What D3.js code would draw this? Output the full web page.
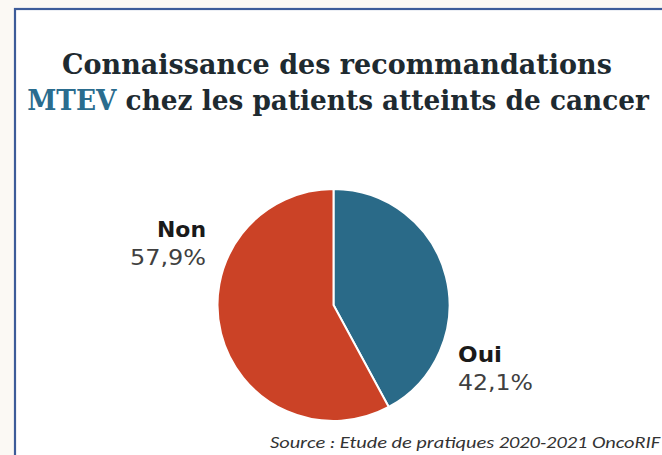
<!DOCTYPE html>
<html><head><meta charset="utf-8">
<script src="https://cdn.jsdelivr.net/npm/d3@7"></script>
<style>html,body{margin:0;padding:0;background:#fbf9f4;}svg{display:block;}</style>
</head><body>
<script>
const categories = ["Oui", "Non"];
const values = [42.1, 57.9];
const valueLabels = ["42,1%", "57,9%"];
const colors = ["#2a6a88", "#cb4226"];
const titleLine1 = "Connaissance des recommandations";
const titleLine2a = "MTEV";
const titleLine2b = " chez les patients atteints de cancer";
const sourceText = "Source : Etude de pratiques 2020-2021 OncoRIF";

const W = 662, H = 455;
const svg = d3.select("body").append("svg").attr("width", W).attr("height", H);

// frame
svg.append("rect").attr("x", 15).attr("y", 9).attr("width", W + 10).attr("height", H + 10)
  .attr("fill", "#ffffff").attr("stroke", "#3d5c99").attr("stroke-width", 2.2);

// title (scaled horizontally to the reference widths)
function fitLine(cxPos, y, width, build) {
  const gg = svg.append("g");
  const t = gg.append("text").attr("x", 0).attr("y", 0).attr("text-anchor", "middle")
    .attr("font-family", "DejaVu Serif, serif").attr("font-weight", "bold")
    .attr("font-size", 28).attr("fill", "#1e2a30");
  build(t);
  const natural = t.node().getComputedTextLength();
  gg.attr("transform", `translate(${cxPos},${y}) scale(${width / natural},1)`);
}
fitLine(337, 73.5, 550, t => t.text(titleLine1));
fitLine(338, 110, 622, t => {
  t.append("tspan").attr("fill", "#2a6c8e").text(titleLine2a);
  t.append("tspan").text(titleLine2b);
});

// pie
const cx = 333.5, cy = 305, r = 116;
const pie = d3.pie().sort(null).value(d => d);
const arc = d3.arc().innerRadius(0).outerRadius(r);
const arcs = pie(values);
const g = svg.append("g").attr("transform", `translate(${cx},${cy})`);
g.selectAll("path").data(arcs).join("path")
  .attr("d", arc).attr("fill", (d, i) => colors[i])
  .attr("stroke", "#ffffff").attr("stroke-width", 2);

// labels
const labelPos = [
  {x: 458, y: 362, anchor: "start", w1: 44, w2: 75},
  {x: 206, y: 237, anchor: "end", w1: 49, w2: 76}
];
categories.forEach((c, i) => {
  const p = labelPos[i];
  svg.append("text").attr("x", p.x).attr("y", p.y).attr("text-anchor", p.anchor)
    .attr("font-family", "DejaVu Sans, Verdana, sans-serif").attr("font-weight", "bold")
    .attr("font-size", 20.5).attr("fill", "#1a1a1a")
    .attr("textLength", p.w1).attr("lengthAdjust", "spacingAndGlyphs").text(c);
  svg.append("text").attr("x", p.x).attr("y", p.y + 27.5).attr("text-anchor", p.anchor)
    .attr("font-family", "DejaVu Sans, Verdana, sans-serif")
    .attr("font-size", 20.5).attr("fill", "#404040")
    .attr("textLength", p.w2).attr("lengthAdjust", "spacingAndGlyphs").text(valueLabels[i]);
});

// source
svg.append("text").attr("x", 270).attr("y", 448)
  .attr("font-family", "Carlito, Liberation Sans, sans-serif").attr("font-style", "italic")
  .attr("font-size", 16).attr("fill", "#333333")
  .attr("textLength", 390).attr("lengthAdjust", "spacingAndGlyphs")
  .text(sourceText);
</script>
</body></html>
